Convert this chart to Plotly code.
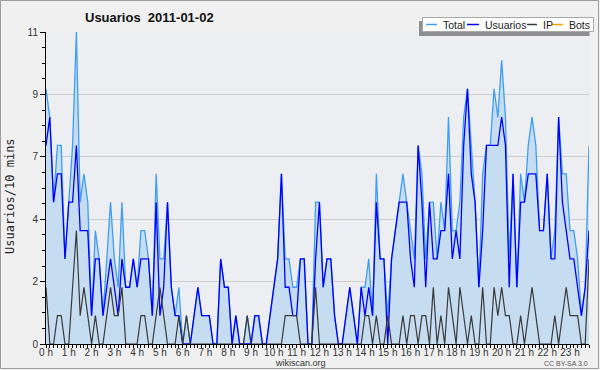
import plotly.graph_objects as go

# 10-minute slots of 2011-01-02 (0 = 00:00, 143 = 23:50)
SLOTS = list(range(144))
HOUR_TICKS = [0, 6, 12, 18, 24, 30, 36, 42, 48, 54, 60, 66, 72, 78, 84, 90,
              96, 102, 108, 114, 120, 126, 132, 138]
HOUR_LABELS = ["0 h", "1 h", "2 h", "3 h", "4 h", "5 h", "6 h", "7 h", "8 h",
               "9 h", "10 h", "11 h", "12 h", "13 h", "14 h", "15 h", "16 h",
               "17 h", "18 h", "19 h", "20 h", "21 h", "22 h", "23 h"]
Y_TICKS = [0, 2.2, 4.4, 6.6, 8.8, 11]
Y_LABELS = ["0", "2", "4", "7", "9", "11"]

TOTAL = [9, 8, 5, 7, 7, 3, 5, 7, 11, 5, 6, 5, 1, 4, 3, 1, 3, 5, 3, 2, 5, 2, 2, 3,
         2, 4, 4, 3, 1, 6, 3, 3, 5, 2, 1, 2, 0, 1, 0, 1, 2, 1, 1, 1, 0, 0, 3, 2,
         2, 0, 1, 0, 0, 1, 0, 1, 1, 0, 0, 1, 2, 3, 6, 3, 3, 2, 2, 3, 3, 0, 0, 5,
         5, 2, 3, 3, 1, 0, 0, 1, 2, 1, 0, 2, 2, 3, 1, 6, 3, 3, 1, 3, 4, 5, 6, 5,
         4, 3, 7, 6, 3, 5, 5, 3, 5, 4, 8, 4, 4, 5, 8, 9, 7, 5, 2, 6, 7, 7, 9, 8,
         10, 8, 3, 6, 2, 6, 5, 7, 8, 7, 4, 4, 6, 3, 4, 8, 6, 6, 4, 4, 3, 1, 2, 7]
USUARIOS = [7, 8, 5, 6, 6, 3, 5, 5, 7, 4, 4, 4, 1, 3, 3, 1, 2, 3, 2, 1, 3, 2, 2, 3,
            2, 3, 3, 3, 1, 5, 1, 2, 5, 2, 1, 1, 0, 0, 0, 1, 2, 1, 1, 1, 0, 0, 3, 2,
            2, 0, 1, 0, 0, 0, 0, 1, 1, 0, 0, 1, 2, 3, 6, 2, 2, 1, 1, 3, 3, 0, 0, 3,
            5, 2, 3, 3, 1, 0, 0, 1, 2, 1, 0, 2, 1, 2, 1, 5, 3, 3, 0, 3, 4, 5, 5, 5,
            3, 2, 7, 5, 2, 5, 3, 3, 4, 4, 6, 3, 4, 3, 7, 9, 6, 5, 2, 4, 7, 7, 7, 7,
            8, 7, 2, 6, 2, 5, 5, 6, 6, 6, 4, 4, 6, 3, 3, 8, 5, 4, 3, 3, 2, 1, 2, 4]
IP = [2, 0, 0, 1, 1, 0, 0, 2, 4, 1, 2, 1, 0, 1, 0, 0, 1, 2, 1, 1, 2, 0, 0, 0,
      0, 1, 1, 0, 0, 1, 2, 1, 0, 0, 0, 1, 0, 1, 0, 0, 0, 0, 0, 0, 0, 0, 0, 0,
      0, 0, 0, 0, 0, 1, 0, 0, 0, 0, 0, 0, 0, 0, 0, 1, 1, 1, 1, 0, 0, 0, 0, 2,
      0, 0, 0, 0, 0, 0, 0, 0, 0, 0, 0, 0, 1, 1, 0, 1, 0, 0, 1, 0, 0, 0, 1, 0,
      1, 1, 0, 1, 1, 0, 2, 0, 1, 0, 2, 1, 0, 2, 1, 0, 1, 0, 0, 2, 0, 0, 2, 1,
      2, 1, 1, 0, 0, 1, 0, 1, 2, 1, 0, 0, 0, 0, 1, 0, 1, 2, 1, 1, 1, 0, 0, 3]

SERIES_NAMES = ["Total", "Usuarios", "IP", "Bots"]
SERIES_COLORS = ["#3f9ef2", "#0000ff", "#3a3a3a", "#ffa500"]

W, H = 600, 370
L, R, T, B = 46, 11, 32, 26
PW, PH = W - L - R, H - T - B


def px(x):
    return (x - L) / PW


def py(y):
    return (H - B - y) / PH


fig = go.Figure()
fig.add_trace(go.Scatter(x=SLOTS, y=TOTAL, mode="lines", name="Total",
                         line=dict(color=SERIES_COLORS[0], width=1.3),
                         fill="tozeroy", fillcolor="#c6dcf0", showlegend=False))
fig.add_trace(go.Scatter(x=SLOTS, y=USUARIOS, mode="lines", name="Usuarios",
                         line=dict(color=SERIES_COLORS[1], width=1.3), showlegend=False))
fig.add_trace(go.Scatter(x=SLOTS, y=IP, mode="lines", name="IP",
                         line=dict(color=SERIES_COLORS[2], width=1.2), showlegend=False))

shapes = [
    # outer frame
    dict(type="rect", xref="paper", yref="paper", x0=px(0.5), x1=px(598.5),
         y0=py(368.5), y1=py(0.5), line=dict(color="#9c9c9c", width=1), layer="above"),
    # legend shadow
    dict(type="rect", xref="paper", yref="paper", x0=px(419), x1=px(589.5),
         y0=py(36), y1=py(21), line=dict(width=0), fillcolor="#8f8f8f", layer="above"),
    # legend box
    dict(type="rect", xref="paper", yref="paper", x0=px(422.5), x1=px(593.5),
         y0=py(31.5), y1=py(17.5), line=dict(color="#a8a8a8", width=1),
         fillcolor="#ffffff", layer="above"),
]
annotations = []
LEG_LINE_X = [(426, 437), (467, 479), (527, 537), (552, 563)]
LEG_TEXT_X = [441, 483, 541, 567]
for name, color, (a, b), tx in zip(SERIES_NAMES, SERIES_COLORS, LEG_LINE_X, LEG_TEXT_X):
    shapes.append(dict(type="line", xref="paper", yref="paper", x0=px(a), x1=px(b),
                       y0=py(24.5), y1=py(24.5), line=dict(color=color, width=1.5),
                       layer="above"))
    annotations.append(dict(text=name, xref="paper", yref="paper", x=px(tx), y=py(24.5),
                            xanchor="left", yanchor="middle", showarrow=False,
                            font=dict(family="Liberation Sans", size=10.5, color="#222")))

annotations += [
    dict(text="Usuarios/10 mins", xref="paper", yref="paper", x=px(10), y=py(196),
         textangle=-90, showarrow=False, xanchor="center", yanchor="middle",
         font=dict(family="DejaVu Sans Mono", size=12, color="#222")),
    dict(text="wikiscan.org", xref="paper", yref="paper", x=px(300), y=py(363),
         showarrow=False, xanchor="center", yanchor="middle",
         font=dict(family="Liberation Sans", size=9, color="#333")),
    dict(text="CC BY-SA 3.0", xref="paper", yref="paper", x=px(590), y=py(363),
         showarrow=False, xanchor="right", yanchor="middle",
         font=dict(family="Liberation Sans", size=7, color="#555")),
]

fig.update_layout(
    width=W, height=H,
    margin=dict(l=L, r=R, t=T, b=B, pad=0),
    paper_bgcolor="#f0f0f0",
    plot_bgcolor="#eceef1",
    title=dict(text="<b>Usuarios  2011-01-02</b>", xref="container", yref="container",
               x=85 / W, xanchor="left", y=1 - 17 / H, yanchor="middle",
               font=dict(family="Liberation Sans", size=13, color="#111")),
    showlegend=False,
    shapes=shapes,
    annotations=annotations,
    font=dict(family="Liberation Sans", size=10, color="#333"),
)
fig.update_xaxes(range=[0, 143], tickmode="array", tickvals=HOUR_TICKS, ticktext=HOUR_LABELS,
                 ticks="outside", ticklen=3, tickwidth=1, tickcolor="#000",
                 ticklabelstandoff=-4,
                 showline=True, linecolor="#000", linewidth=1, showgrid=False, zeroline=False,
                 tickfont=dict(family="Liberation Sans", size=10, color="#333"),
                 minor=dict(dtick=1, tick0=0, ticks="outside", ticklen=3, tickcolor="#000",
                            showgrid=False))
fig.update_yaxes(range=[0, 11], tickmode="array", tickvals=Y_TICKS, ticktext=Y_LABELS,
                 ticks="outside", ticklen=5, tickwidth=1, tickcolor="#000",
                 showline=True, linecolor="#000", linewidth=1, showgrid=True,
                 gridcolor="#cdcdcd", gridwidth=1, zeroline=False,
                 tickfont=dict(family="Liberation Sans", size=10, color="#333"),
                 minor=dict(dtick=0.55, tick0=0, ticks="outside", ticklen=3,
                            tickcolor="#000", showgrid=False))

fig.write_html("out.html", config={"displayModeBar": False},
               post_script="document.body.style.margin='0px';")
